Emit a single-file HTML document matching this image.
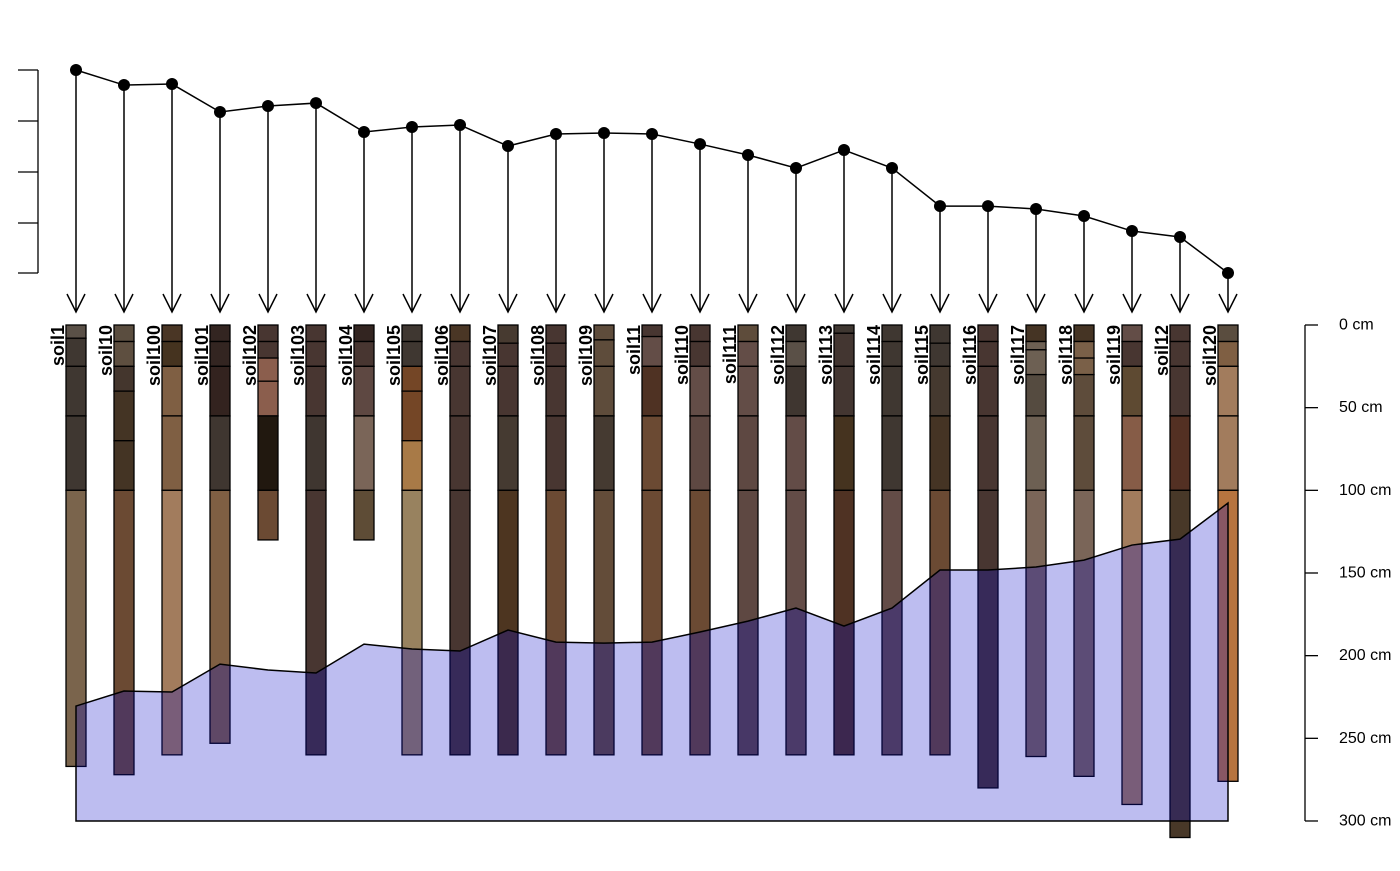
<!DOCTYPE html>
<html><head><meta charset="utf-8"><style>
html,body{margin:0;padding:0;background:#fff;}
svg text{font-family:"Liberation Sans",Arial,sans-serif;}
</style></head><body>
<svg id="chart" width="1400" height="866" viewBox="0 0 1400 866" xmlns="http://www.w3.org/2000/svg"></svg>
<script>
const profiles=["soil1","soil10","soil100","soil101","soil102","soil103","soil104","soil105","soil106","soil107","soil108","soil109","soil11","soil110","soil111","soil112","soil113","soil114","soil115","soil116","soil117","soil118","soil119","soil12","soil120"];
const values=[230.5,221.4,222.0,205.1,208.7,210.5,193.0,196.0,197.2,184.5,191.8,192.4,191.8,185.7,179.1,171.2,182.1,171.2,148.2,148.2,146.4,142.2,133.1,129.5,107.7];
const horizonTops=[
[0,8,25,55,100],[0,10,25,40,70,100],[0,10,25,55,100],[0,10,25,55,100],[0,10,20,34,55,100],
[0,10,25,55,100],[0,10,25,55,100],[0,10,25,40,70,100],[0,10,25,55,100],[0,11,25,55,100],
[0,11,25,55,100],[0,9,25,55,100],[0,7,25,55,100],[0,10,25,55,100],[0,10,25,55,100],
[0,10,25,55,100],[0,5,25,55,100],[0,10,25,55,100],[0,11,25,55,100],[0,10,25,55,100],
[0,10,15,30,55,100],[0,10,20,30,55,100],[0,10,25,55,100],[0,10,25,55,100],[0,10,25,55,100]];
const bottoms=[267,272,260,253,130,260,130,260,260,260,260,260,260,260,260,260,260,260,260,280,261,273,290,310,276];
const colors=[
["#5a5047","#3f3731","#3f3731","#3f3731","#7a644c"],
["#5a4d3f","#5e4f40","#44362d","#443424","#443424","#6b4a33"],
["#4a3625","#45331f","#7f5f43","#7f5f43","#a27c5d"],
["#332521","#332521","#33231f","#3f3630","#7f5f43"],
["#483631","#483631","#8b5e4d","#8b5e4d","#21180f","#6b4a33"],
["#483631","#483631","#483631","#3f3630","#483631"],
["#332521","#483631","#5e4842","#7a6558","#5e4c36"],
["#3f3731","#3f3731","#744626","#744626","#a87a47","#98825f"],
["#4a3625","#483631","#483631","#483631","#483631"],
["#473a30","#483631","#483631","#453a31","#4d3520"],
["#483631","#483631","#483631","#483631","#6b4a33"],
["#5e4c3b","#5e4c3b","#5e4c3b","#453a31","#634c39"],
["#483631","#634d47","#4f3223","#6b4a33","#6b4a33"],
["#483631","#483631","#634d47","#5e4842","#6b4a33"],
["#5e4c3b","#634d47","#634d47","#5e4842","#5e4842"],
["#3f3731","#5a5047","#3f3630","#634c47","#634c47"],
["#3f3731","#433631","#433631","#45331f","#4f3223"],
["#3f3731","#3f3731","#3f3731","#3f3731","#634c47"],
["#3f3731","#3f3731","#45392f","#453424","#6b4a33"],
["#483631","#483631","#483631","#483631","#483631"],
["#453424","#6d6053","#6d6053","#554b40","#6d6053","#7a6558"],
["#453424","#7a6048","#7a6048","#5e4c3b","#5e4c3b","#7a6558"],
["#634d47","#483631","#5e4a32","#865c47","#a27c5d"],
["#483631","#483631","#483631","#533023","#483828"],
["#5a4d3f","#7f5f43","#a27c5d","#a27c5d","#b7743f"]];
const depthTicks=[0,50,100,150,200,250,300];

const NS="http://www.w3.org/2000/svg";
const svg=document.getElementById('chart');
function xPos(i){return 76+i*48;}
function yDepth(d){return 325+d*1.6533;}
function yTop(v){return 70+(values[0]-v)*1.6533;}
function mk(tag,attrs,parent){const e=document.createElementNS(NS,tag);for(const k in attrs)e.setAttribute(k,attrs[k]);(parent||svg).appendChild(e);return e;}

profiles.forEach((p,i)=>{
  const g=mk('g',{});
  
  
  const tops=horizonTops[i];
  tops.forEach((t,j)=>{
    const b=j+1<tops.length?tops[j+1]:bottoms[i];
    const r=mk('rect',{x:xPos(i)-10,y:yDepth(t),width:20,height:yDepth(b)-yDepth(t),fill:colors[i][j],stroke:'#000','stroke-width':1.3},g);
    
    
  });
  const tx=xPos(i)-18, ty=325;
  const t=mk('text',{x:0,y:0,transform:`translate(${tx},${ty}) rotate(-90)`,'text-anchor':'end','dominant-baseline':'central','font-size':18,'font-weight':'bold',fill:'#000'},g);
  t.textContent=p;
  
  
});

let pts=values.map((v,i)=>xPos(i)+','+yDepth(v)).join(' ');
pts+=` ${xPos(values.length-1)},${yDepth(300)} ${xPos(0)},${yDepth(300)}`;
const poly=mk('polygon',{points:pts,fill:'rgba(10,10,200,0.27)',stroke:'#000','stroke-width':1.5});



const line=mk('polyline',{points:values.map((v,i)=>xPos(i)+','+yTop(v)).join(' '),fill:'none',stroke:'#000','stroke-width':1.5});


values.forEach((v,i)=>{
  const x=xPos(i);
  const a=mk('path',{d:`M${x},${yTop(v)} L${x},312 M${x-9},294 L${x},312 L${x+9},294`,fill:'none',stroke:'#000','stroke-width':1.5});
  
  
  const c=mk('circle',{cx:x,cy:yTop(v),r:6,fill:'#000'});
  
  
});

const la=mk('g',{});


mk('line',{x1:38,y1:70,x2:38,y2:273,stroke:'#000','stroke-width':1.3},la);
[70,121,172,223,273].forEach(y=>mk('line',{x1:18,y1:y,x2:38,y2:y,stroke:'#000','stroke-width':1.3},la));

const ra=mk('g',{});


mk('line',{x1:1305,y1:yDepth(0),x2:1305,y2:yDepth(300),stroke:'#000','stroke-width':1.3},ra);
depthTicks.forEach(d=>{
  mk('line',{x1:1305,y1:yDepth(d),x2:1318,y2:yDepth(d),stroke:'#000','stroke-width':1.3},ra);
  const t=mk('text',{x:1339,y:yDepth(d),'dominant-baseline':'central','font-size':16,fill:'#000'},ra);
  t.textContent=d+' cm';
  
  
});
</script>
</body></html>
